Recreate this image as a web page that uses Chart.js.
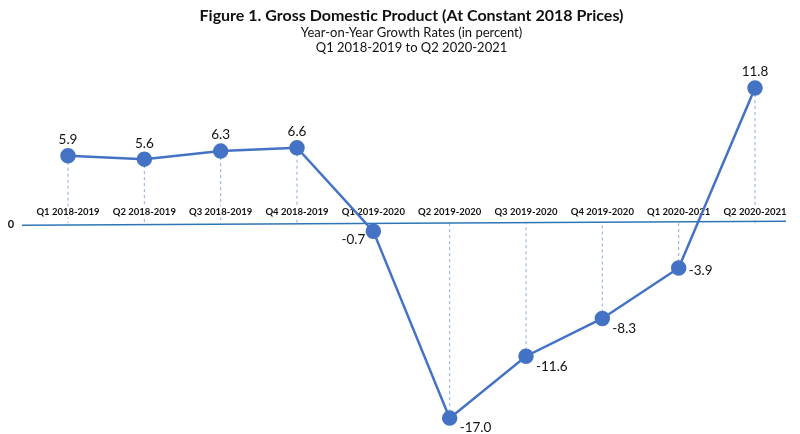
<!DOCTYPE html>
<html>
<head>
<meta charset="utf-8">
<script src="https://cdn.jsdelivr.net/npm/chart.js@4.4.0/dist/chart.umd.min.js"></script>
<style>
  html, body { margin: 0; padding: 0; background: #fff; }
  #wrap { width: 800px; height: 434px; }
</style>
</head>
<body>
<div id="wrap"><canvas id="gdpChart"></canvas></div>
<script>
const quarters = ['Q1 2018-2019', 'Q2 2018-2019', 'Q3 2018-2019', 'Q4 2018-2019', 'Q1 2019-2020',
  'Q2 2019-2020', 'Q3 2019-2020', 'Q4 2019-2020', 'Q1 2020-2021', 'Q2 2020-2021'];
const growth = [5.9, 5.6, 6.3, 6.6, -0.7, -17.0, -11.6, -8.3, -3.9, 11.8];
const titleText = 'Figure 1. Gross Domestic Product (At Constant 2018 Prices)';
const subtitleLines = ['Year-on-Year Growth Rates (in percent)', 'Q1 2018-2019 to Q2 2020-2021'];

const FONT = 'Lato, "Open Sans", sans-serif';
const BLUE = '#4472C4';

// dashed drop lines, zero axis, quarter names and value labels
const decorations = {
  id: 'decorations',
  beforeDatasetsDraw(chart) {
    const ctx = chart.ctx;
    const y = chart.scales.y;
    const zeroY = y.getPixelForValue(0);
    const meta = chart.getDatasetMeta(0);
    ctx.save();
    // drop lines
    ctx.strokeStyle = '#8FAADC';
    ctx.lineWidth = 1;
    ctx.setLineDash([3, 3]);
    meta.data.forEach(pt => {
      ctx.beginPath();
      ctx.moveTo(pt.x, pt.y);
      ctx.lineTo(pt.x, zeroY);
      ctx.stroke();
    });
    ctx.setLineDash([]);
    // quarter names just above zero line
    ctx.font = 'bold 9.5px ' + FONT;
    ctx.textAlign = 'center';
    ctx.textBaseline = 'middle';
    meta.data.forEach((pt, i) => {
      const w = ctx.measureText(quarters[i]).width;
      ctx.fillStyle = '#fff';
      ctx.fillRect(pt.x - w / 2 - 1, zeroY - 17, w + 2, 11);
      ctx.fillStyle = '#111';
      ctx.fillText(quarters[i], pt.x, zeroY - 11);
    });
    // zero line
    ctx.strokeStyle = '#2E75B6';
    ctx.lineWidth = 1.5;
    ctx.beginPath();
    ctx.moveTo(22, zeroY + 2);
    ctx.lineTo(chart.width - 14, zeroY - 2);
    ctx.stroke();
    ctx.fillStyle = '#111';
    ctx.font = 'bold 11px ' + FONT;
    ctx.fillText('0', 11, zeroY + 1);
    ctx.restore();
  },
  afterDatasetsDraw(chart) {
    const ctx = chart.ctx;
    const meta = chart.getDatasetMeta(0);
    ctx.save();
    ctx.fillStyle = '#111';
    ctx.font = '13.5px ' + FONT;
    ctx.textBaseline = 'middle';
    meta.data.forEach((pt, i) => {
      const v = growth[i];
      const txt = v.toFixed(1);
      if (v >= 0) {
        ctx.textAlign = 'center';
        ctx.fillText(txt, pt.x, pt.y - 16);
      } else if (pt.y < chart.scales.y.getPixelForValue(-2)) {
        ctx.textAlign = 'right';
        ctx.fillText(txt, pt.x - 8, pt.y + 8);
      } else {
        ctx.textAlign = 'left';
        ctx.fillText(txt, pt.x + 10, pt.y + (i === 8 ? 3 : 10));
      }
    });
    ctx.restore();
  }
};

new Chart(document.getElementById('gdpChart'), {
  type: 'line',
  data: {
    labels: quarters,
    datasets: [{
      data: growth,
      borderColor: BLUE,
      backgroundColor: BLUE,
      borderWidth: 2.5,
      pointRadius: 6.5,
      pointHoverRadius: 6.5,
      pointBackgroundColor: BLUE,
      pointBorderColor: BLUE,
      tension: 0,
      clip: false
    }]
  },
  plugins: [decorations],
  options: {
    responsive: true,
    maintainAspectRatio: false,
    animation: false,
    layout: { padding: { left: 68, right: 45, top: 0, bottom: 0 } },
    plugins: {
      legend: { display: false },
      tooltip: { enabled: false },
      title: {
        display: true,
        text: titleText,
        color: '#111',
        font: { family: FONT, size: 16, weight: 'bold', lineHeight: 1.15 },
        padding: { top: 7, bottom: 0 }
      },
      subtitle: {
        display: true,
        text: subtitleLines,
        color: '#111',
        font: { family: FONT, size: 13, lineHeight: 1.15 },
        padding: { top: 0, bottom: 3 }
      }
    },
    scales: {
      x: {
        display: false,
        offset: false
      },
      y: {
        display: false,
        min: -17.6,
        max: 14.4
      }
    }
  }
});
</script>
</body>
</html>
